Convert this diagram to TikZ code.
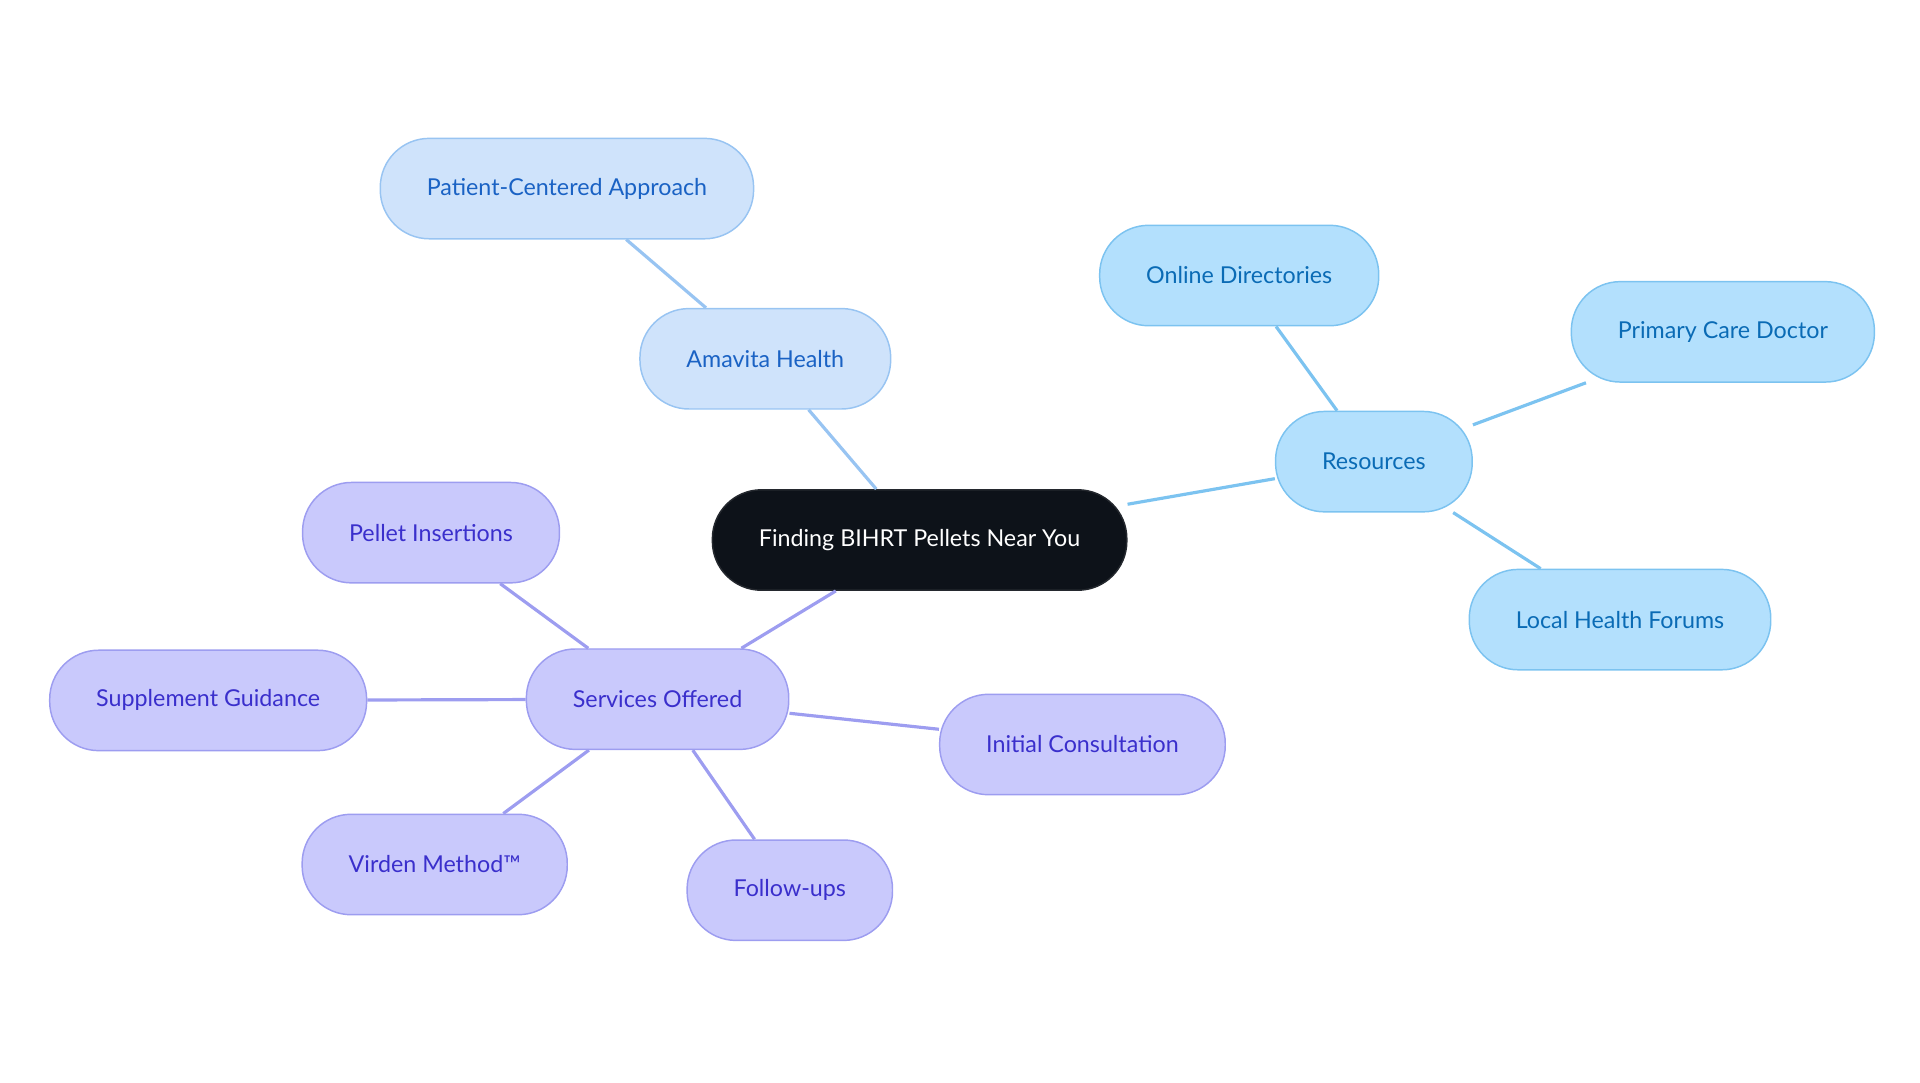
\documentclass[tikz,border=0pt]{standalone}
\usepackage{fontspec}
\setmainfont{Lato}
\usetikzlibrary{positioning}

\definecolor{rootfill}{HTML}{0D1219}
\definecolor{amafill}{HTML}{CFE3FB}
\definecolor{amadraw}{HTML}{98C4F2}
\definecolor{amatext}{HTML}{1A62C4}
\definecolor{resfill}{HTML}{B3E0FD}
\definecolor{resdraw}{HTML}{7CC3F0}
\definecolor{restext}{HTML}{0A6BB5}
\definecolor{srvfill}{HTML}{C9C9FC}
\definecolor{srvdraw}{HTML}{9D9DF0}
\definecolor{srvtext}{HTML}{3A2FCC}

\begin{document}
\begin{tikzpicture}[x=1pt,y=-1pt]

\tikzset{
  mynode/.style={draw,line width=1.2pt,rounded corners=40pt,minimum height=82pt,inner xsep=38pt,font=\fontsize{19}{22}\selectfont},
  rootnode/.style={mynode,fill=rootfill,draw=rootfill!80!gray,text=white},
  amanode/.style={mynode,fill=amafill,draw=amadraw,text=amatext},
  resnode/.style={mynode,fill=resfill,draw=resdraw,text=restext},
  srvnode/.style={mynode,fill=srvfill,draw=srvdraw,text=srvtext},
  amaline/.style={draw=amadraw,line width=2.6pt},
  resline/.style={draw=resdraw,line width=2.6pt},
  srvline/.style={draw=srvdraw,line width=2.6pt}
}

\useasboundingbox (0,0) rectangle (1568,884);

% NODES
\node[rootnode](root) at (751,441){Finding BIHRT Pellets Near You};

% amavita
\node[amanode](ama) at (625,293){Amavita Health};
\node[amanode](patient) at (463,154){Patient-Centered Approach};

% resources
\node[resnode](res) at (1122,377){Resources};
\node[resnode](online) at (1012,225){Online Directories};
\node[resnode](doctor) at (1407,271){Primary Care Doctor};
\node[resnode](forums) at (1323,506){Local Health Forums};

% services
\node[srvnode](srv) at (537,571){Services Offered};
\node[srvnode](pellet) at (352,435){Pellet Insertions};
\node[srvnode](suppl) at (170,572){Supplement Guidance};
\node[srvnode](virden) at (355,706){Virden Method™};
\node[srvnode](follow) at (645,727){Follow-ups};
\node[srvnode](consult) at (884,608){Initial Consultation};

% LINES
\draw[amaline](root) -- (ama);
\draw[amaline](ama) -- (patient);

\draw[resline](root) -- (res);
\draw[resline](res) -- (online);
\draw[resline](res) -- (doctor);
\draw[resline](res) -- (forums);

\draw[srvline](root) -- (srv);
\draw[srvline](srv) -- (pellet);
\draw[srvline](srv) -- (suppl);
\draw[srvline](srv) -- (virden);
\draw[srvline](srv) -- (follow);
\draw[srvline](srv) -- (consult);

\end{tikzpicture}
\end{document}
